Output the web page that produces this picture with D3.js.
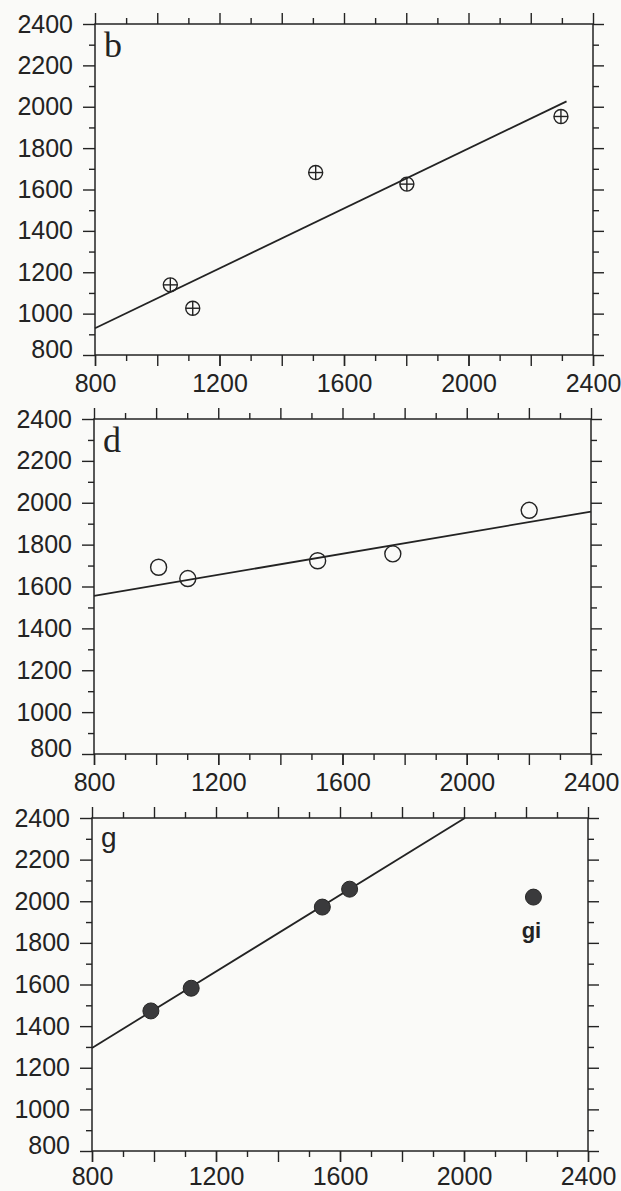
<!DOCTYPE html>
<html>
<head>
<meta charset="utf-8">
<script src="https://cdn.jsdelivr.net/npm/d3@7"></script>
<style>
  body { margin: 0; background: #fafaf8; }
  svg { display: block; }
</style>
</head>
<body>
<svg id="chart" width="621" height="1191"></svg>
<script>
// Axis ticks shared by all three panels
const xLabelTicks = [800, 1200, 1600, 2000, 2400];
const xMajorTicks = [800, 1000, 1200, 1400, 1600, 1800, 2000, 2200, 2400];
const xMinorTicks = [900, 1100, 1300, 1500, 1700, 1900, 2100, 2300];
const yLabelTicks = [800, 1000, 1200, 1400, 1600, 1800, 2000, 2200, 2400];
const yMinorTicks = [900, 1100, 1300, 1500, 1700, 1900, 2100, 2300];

// Panel b: crossed circles and fitted line
const bX = [1042, 1114, 1509, 1802, 2297];
const bY = [1139, 1026, 1682, 1626, 1953];
const bFitX = [800, 2315];
const bFitY = [929, 2026];

// Panel d: open circles and fitted line
const dX = [1008, 1102, 1520, 1762, 2201];
const dY = [1692, 1638, 1723, 1756, 1964];
const dFitX = [800, 2400];
const dFitY = [1555, 1958];

// Panel g: filled circles, fitted line and the outlying "gi" point
const gX = [990, 1120, 1543, 1631, 2224];
const gY = [1473, 1582, 1972, 2058, 2020];
const gNames = ["", "", "", "", "gi"];
const gFitX = [800, 2003];
const gFitY = [1295, 2400];

const ink = "#232323";
const svg = d3.select("#chart");

const panels = [
  { letter: "b", serif: true, marker: "cross", xs: bX, ys: bY, names: null, fx: bFitX, fy: bFitY,
    left: 95, right: 593, top: 24, bottom: 355, pad: 8 },
  { letter: "d", serif: true, marker: "open", xs: dX, ys: dY, names: null, fx: dFitX, fy: dFitY,
    left: 94, right: 591, top: 419, bottom: 754, pad: 8 },
  { letter: "g", serif: false, marker: "filled", xs: gX, ys: gY, names: gNames, fx: gFitX, fy: gFitY,
    left: 92, right: 588, top: 818, bottom: 1151, pad: 5 }
];

function styleAxis(g) {
  g.select(".domain").remove();
  g.selectAll(".tick line").attr("stroke", ink).attr("stroke-width", 1.4);
  g.selectAll("text")
    .attr("fill", ink)
    .style("font-family", "'Liberation Sans', Arial, sans-serif")
    .style("font-size", "25px");
}

panels.forEach(p => {
  const x = d3.scaleLinear().domain([800, 2400]).range([p.left, p.right]);
  const y = d3.scaleLinear().domain([800, 2400]).range([p.bottom, p.top]);
  const g = svg.append("g");

  // Outward ticks on all four sides
  const addX = (axisFn, yPos, vals, size) => {
    const ax = axisFn(x).tickValues(vals).tickSizeInner(size).tickSizeOuter(0).tickFormat("");
    g.append("g").attr("transform", `translate(0,${yPos})`).call(ax).call(styleAxis);
  };
  const addY = (axisFn, xPos, vals, size) => {
    const ax = axisFn(y).tickValues(vals).tickSizeInner(size).tickSizeOuter(0).tickFormat("");
    g.append("g").attr("transform", `translate(${xPos},0)`).call(ax).call(styleAxis);
  };

  addX(d3.axisBottom, p.bottom, xMinorTicks, 6);
  addX(d3.axisBottom, p.bottom, xMajorTicks, 11);
  const xl = d3.axisBottom(x).tickValues(xLabelTicks).tickSize(11).tickPadding(p.pad).tickFormat(d3.format("d"));
  g.append("g").attr("transform", `translate(0,${p.bottom})`).call(xl).call(styleAxis);

  addX(d3.axisTop, p.top, xMinorTicks, 6);
  addX(d3.axisTop, p.top, xMajorTicks, 11);

  addY(d3.axisLeft, p.left, yMinorTicks, 6);
  const yl = d3.axisLeft(y).tickValues(yLabelTicks).tickSize(12).tickPadding(10).tickFormat(d3.format("d"));
  const ylg = g.append("g").attr("transform", `translate(${p.left},0)`).call(yl).call(styleAxis);
  ylg.selectAll(".tick text").filter(d => d === 800).attr("y", -6);

  addY(d3.axisRight, p.right, yMinorTicks, 6);
  addY(d3.axisRight, p.right, yLabelTicks, 11);

  // Frame
  g.append("rect")
    .attr("x", p.left).attr("y", p.top)
    .attr("width", p.right - p.left).attr("height", p.bottom - p.top)
    .attr("fill", "none").attr("stroke", ink).attr("stroke-width", 1.5);

  // Panel letter
  g.append("text")
    .attr("x", p.left + 9)
    .attr("y", p.top + (p.serif ? 33 : 29))
    .attr("fill", ink)
    .style("font-family", p.serif ? "'Liberation Serif', 'Times New Roman', serif" : "'Liberation Sans', Arial, sans-serif")
    .style("font-size", p.serif ? "36px" : "28px")
    .text(p.letter);

  // Fitted line
  const line = d3.line().x(d => x(d[0])).y(d => y(d[1]));
  g.append("path")
    .datum(p.fx.map((v, i) => [v, p.fy[i]]))
    .attr("d", line)
    .attr("fill", "none").attr("stroke", ink).attr("stroke-width", 1.8);

  // Points
  const pts = p.xs.map((v, i) => ({ x: v, y: p.ys[i], name: p.names ? p.names[i] : "" }));
  const mk = g.selectAll(".pt").data(pts).join("g")
    .attr("class", "pt")
    .attr("transform", d => `translate(${x(d.x)},${y(d.y)})`);

  if (p.marker === "cross") {
    mk.append("circle").attr("r", 7).attr("fill", "none").attr("stroke", ink).attr("stroke-width", 1.4);
    mk.append("line").attr("x1", -7).attr("x2", 7).attr("stroke", ink).attr("stroke-width", 1.4);
    mk.append("line").attr("y1", -7).attr("y2", 7).attr("stroke", ink).attr("stroke-width", 1.4);
  } else if (p.marker === "open") {
    mk.append("circle").attr("r", 8).attr("fill", "none").attr("stroke", ink).attr("stroke-width", 1.4);
  } else {
    mk.append("circle").attr("r", 8).attr("fill", "#3a3a3c").attr("stroke", "#262626").attr("stroke-width", 1);
  }

  mk.filter(d => d.name)
    .append("text")
    .attr("x", -2).attr("y", 41)
    .attr("text-anchor", "middle")
    .attr("fill", ink)
    .style("font-family", "'Liberation Sans', Arial, sans-serif")
    .style("font-weight", "bold")
    .style("font-size", "22px")
    .text(d => d.name);
});
</script>
</body>
</html>
